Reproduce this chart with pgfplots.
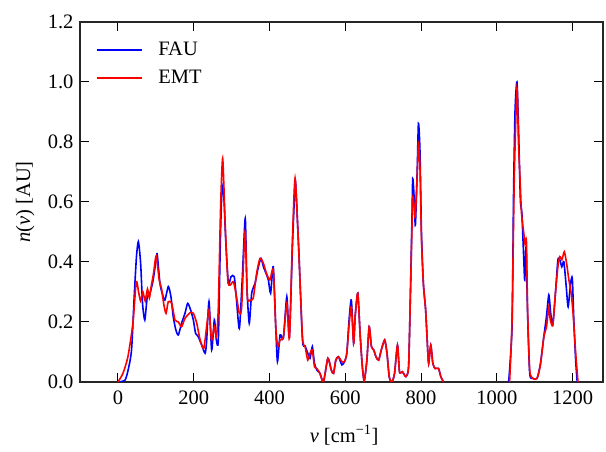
\documentclass[border=0pt]{standalone}
\usepackage{pgfplots}
\pgfplotsset{compat=1.18}
\usepackage{fontspec}
\setmainfont{Liberation Serif}
\newcommand{\chartfont}{\fontsize{20.5}{24}\selectfont}

\begin{document}
\begin{tikzpicture}
\begin{axis}[
    scale only axis,
    width=523pt, height=360pt,
    xmin=-100, xmax=1280,
    ymin=0, ymax=1.2,
    xtick={0,200,400,600,800,1000,1200},
    ytick={0,0.2,0.4,0.6,0.8,1.0,1.2},
    xticklabel={\chartfont\pgfmathprintnumber[assume math mode=true, 1000 sep={}]{\tick}},
    yticklabel={\chartfont\pgfmathprintnumber[assume math mode=true, fixed, fixed zerofill, precision=1]{\tick}},
    label style={font=\chartfont},
    tick align=inside,
    major tick length=9pt,
    every tick/.style={black, line width=1pt},
    axis line style={line width=1.2pt, black!85},
    xticklabel style={yshift=-5pt},
    yticklabel style={xshift=-3pt},
    xlabel={\textit{v} [cm\textsuperscript{\char"2212 1}]},
    ylabel={\textit{n}(\textit{v}) [AU]},
    xlabel style={at={(axis description cs:0.505,-0.167)}, anchor=base},
    ylabel style={at={(axis description cs:-0.105,0.5)}, anchor=center},
    unbounded coords=jump,
    legend cell align=left,
    legend image code/.code={\draw[#1] (0pt,0pt) -- (45pt,0pt);},
    legend style={draw=none, fill=none, font=\chartfont, at={(axis description cs:0.024,0.955)}, anchor=north west,
        row sep=9pt, /tikz/every odd column/.append style={column sep=14pt}},
]

\addplot[blue, line width=1.6pt, smooth, tension=0.4] coordinates {
(0,0) (18.5,0.006) (27,0.04) (36,0.107) (43,0.284) (49,0.418) (54,0.468) (60,0.396) (65,0.262) (71,0.207)
(77.5,0.284) (84.5,0.295) (93,0.34) (102,0.418) (104,0.423) (111,0.329) (117,0.295) (124,0.273) (133,0.318)
(140,0.284) (146,0.218) (153,0.173) (159.5,0.157) (168,0.196) (177,0.229) (184,0.262) (190.7,0.245) (199,0.207)
(205,0.162) (212,0.151) (221,0.123) (230,0.096) (234,0.134) (240.4,0.268) (247.4,0.107) (254.5,0.207)
(259.8,0.14) (265,0.14) (270.4,0.473) (274,0.62) (278.3,0.651) (284.5,0.473) (291.5,0.329) (298.5,0.351)
(307,0.351) (313,0.273) (320.5,0.178) (328,0.34) (336,0.545) (340.4,0.318) (346.6,0.196) (353,0.296)
(361.9,0.329) (370.6,0.384) (377.7,0.412) (384,0.384) (391,0.362) (397,0.34) (403,0.296) (410,0.384)
(416.5,0.184) (421,0.068) (428,0.157) (436.7,0.146) (445.7,0.284) (452.6,0.151) (460.5,0.451) (467.5,0.662)
(470,0.64) (478,0.418) (487,0.14) (494,0.12) (501,0.096) (507,0.079) (513,0.118) (518.7,0.062) (525,0.04)
(533,0.029) (542.5,0.001) (554,0.079) (563,0.04) (569,0.029) (575,0.073) (582,0.084) (591,0.057) (598,0.068)
(604,0.096) (610,0.207) (616,0.273) (622,0.129) (626,0.218) (633,0.296) (639,0.162) (645,0.051) (650,0.004)
(657,0.073) (663,0.184) (669,0.118) (675,0.107) (681,0.084) (688,0.073) (695,0.107) (704,0.14) (710,0.096)
(716,0.017) (723,0.0) (730,0.029) (737.7,0.123) (743,0.034) (751,0.034) (760,0.018) (767,0.051) (771.5,0.273)
(776,0.551) (778,0.678) (782,0.607) (785,0.523) (790,0.718) (793,0.862) (797,0.773) (801,0.496) (806,0.329)
(812,0.24) (817,0.118) (820,0.062) (825.6,0.123) (831,0.062) (837,0.045) (846,0.045) (852,0.018) (859,0.0)
(940,nan)
(1031,0) (1040,0.184) (1044,0.629) (1048,0.907) (1053,1.0) (1057,0.851) (1062,0.607) (1066,0.562) (1071,0.407)
(1073.5,0.34) (1077,0.451) (1081,0.229) (1086.6,0.029) (1095,0.012) (1106,0.012) (1115,0.062) (1123.8,0.151)
(1130.8,0.218) (1137,0.29) (1142,0.229) (1147.5,0.19) (1154.5,0.296) (1161,0.407) (1166,0.407) (1171.4,0.384)
(1176.7,0.401) (1183,0.318) (1188,0.251) (1194.5,0.329) (1199,0.345) (1203,0.207) (1207.8,0.073) (1212,0)
};
\addlegendentry{FAU}

\addplot[red, line width=1.6pt, smooth, tension=0.4] coordinates {
(0,0) (13,0.028) (26.4,0.084) (39.6,0.196) (48.4,0.334) (54.6,0.30) (60,0.27) (66,0.30) (72,0.27) (78,0.31)
(83,0.28) (87,0.312) (94,0.362) (101,0.42) (109,0.34) (115,0.312) (121.5,0.256) (127,0.229) (133,0.268)
(142,0.262) (150.6,0.207) (159.5,0.2) (168,0.184) (177,0.212) (190.7,0.231) (199,0.229) (208,0.196) (217,0.14)
(226,0.111) (230,0.14) (240.4,0.24) (247,0.14) (254.5,0.184) (260,0.151) (265,0.25) (271,0.584) (276.5,0.745)
(283,0.529) (290,0.34) (296,0.323) (304.8,0.334) (313,0.284) (320.5,0.229) (326.6,0.251) (335.5,0.50)
(341.6,0.284) (348.6,0.273) (357,0.279) (366,0.362) (375,0.412) (384,0.395) (392,0.362) (401,0.34) (410,0.373)
(416.5,0.184) (421.8,0.118) (428,0.14) (436.7,0.151) (445.7,0.262) (452.6,0.146) (460.5,0.473) (467.5,0.679)
(476,0.473) (487,0.151) (494,0.118) (501,0.073) (507,0.096) (513,0.107) (518.7,0.051) (525,0.045) (533,0.029)
(542.5,0.0) (554,0.079) (563,0.04) (569,0.029) (575,0.073) (582,0.084) (591,0.068) (598,0.068) (604,0.096)
(610,0.19) (616,0.251) (622,0.129) (626,0.218) (633,0.296) (639,0.162) (645,0.051) (650,0.004) (657,0.073)
(663,0.184) (669,0.118) (675,0.107) (681,0.084) (688,0.073) (695,0.107) (704,0.14) (710,0.096) (716,0.017)
(723,0.0) (730,0.029) (737.7,0.123) (743,0.034) (751,0.034) (760,0.018) (767,0.051) (771.5,0.273) (776,0.52)
(778,0.618) (782,0.584) (784.6,0.551) (790,0.696) (793,0.796) (797,0.718) (801,0.48) (806,0.329) (812,0.24)
(817,0.118) (820,0.062) (825.6,0.123) (831,0.062) (837,0.045) (846,0.045) (852,0.018) (859,0.0)
(940,nan)
(1033.5,0) (1040,0.207) (1046,0.684) (1053,0.979) (1057,0.796) (1062,0.651) (1065,0.562) (1071,0.496)
(1074,0.462) (1078,0.468) (1081,0.24) (1086.6,0.04) (1095,0.012) (1106,0.012) (1115,0.058) (1124,0.151)
(1131,0.184) (1137,0.251) (1141,0.207) (1147.5,0.19) (1154.5,0.296) (1161,0.384) (1166,0.418) (1171.4,0.407)
(1178,0.434) (1184,0.395) (1190,0.34) (1196,0.296) (1201,0.229) (1208,0.095) (1214,0)
};
\addlegendentry{EMT}

\end{axis}
\pgfresetboundingbox
\path[use as bounding box] (-80pt,-70pt) rectangle (526pt,382pt);
\end{tikzpicture}
\end{document}
